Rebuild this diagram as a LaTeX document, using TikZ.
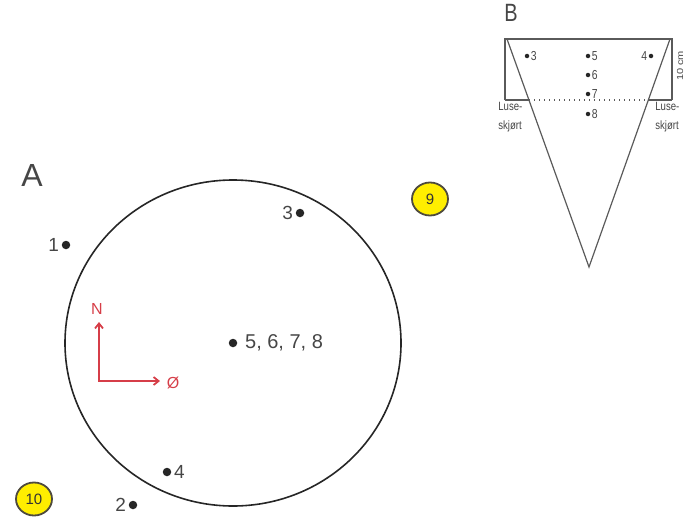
\documentclass[tikz,border=0pt]{standalone}
\usepackage{fontspec}
\setmainfont{Liberation Sans}
\usetikzlibrary{arrows.meta,shapes.geometric}
\definecolor{compred}{RGB}{214,62,72}
\definecolor{badgey}{RGB}{255,238,0}
\definecolor{txtgray}{RGB}{70,70,70}
\definecolor{linegray}{RGB}{90,90,90}
\begin{document}
\begin{tikzpicture}[x=1pt,y=-1pt,
  bigdot/.style={circle,fill=black!85,inner sep=0pt,minimum size=8.5pt},
  smalldot/.style={circle,fill=black!85,inner sep=0pt,minimum size=4.5pt},
  lbl/.style={font=\fontsize{19}{19}\selectfont,text=txtgray,inner sep=2.5pt},
  slbl/.style={font=\fontsize{13}{13}\selectfont,text=txtgray,inner sep=1.5pt,xscale=0.8,transform shape},
  badge/.style={ellipse,draw=black!80!yellow,line width=1.8pt,fill=badgey,minimum width=36pt,minimum height=33pt,inner sep=0pt,font=\fontsize{15}{15}\selectfont,text=black!80},
  compass/.style={draw=compred,line width=1.8pt,-{Straight Barb[length=5pt,width=8pt]}},
  ctext/.style={text=compred,font=\fontsize{16}{16}\selectfont,inner sep=0pt},
  blines/.style={draw=linegray,line width=1.2pt}
]
\useasboundingbox (0,0) rectangle (687,527);

% ---------- A ----------
\node[font=\fontsize{32}{32}\selectfont,text=txtgray] (A) at (32,175) {A};
\draw[line width=1.6pt,black!85] (233,343) ellipse (168 and 163);

\node[bigdot] (p1) at (66,245) {};
\node[lbl,anchor=east] (l1) at (p1.west) {1};
\node[bigdot] (p3) at (300,213) {};
\node[lbl,anchor=east] (l3) at (p3.west) {3};
\node[bigdot] (p5) at (233,343) {};
\node[lbl,anchor=west,font=\fontsize{20}{20}\selectfont] (l5) at ([xshift=5pt]p5.east) {5, 6, 7, 8};
\node[bigdot] (p4) at (167,472) {};
\node[lbl,anchor=west] (l4) at (p4.east) {4};
\node[bigdot] (p2) at (133,505) {};
\node[lbl,anchor=east] (l2) at (p2.west) {2};

\node[badge] (b9) at (430,199) {9};
\node[badge] (b10) at (34,499) {10};

% compass
\coordinate (o) at (99,381);
\coordinate (ntip) at (99,322);
\coordinate (etip) at (160,381);
\node[ctext] (N) at (97,309) {N};
\node[ctext] (E) at (173,383) {Ø};
\draw[compass] ([yshift=-0.9pt]o) -- (ntip);
\draw[compass] ([xshift=-0.9pt]o) -- (etip);

% ---------- B ----------
\node[font=\fontsize{25}{25}\selectfont,text=txtgray,xscale=0.8,transform shape] (B) at (511,13) {B};
\coordinate (rbl) at (505,100);
\coordinate (rtl) at (505,39);
\coordinate (rtr) at (672,39);
\coordinate (rbr) at (672,100);
\coordinate (ttl) at (507,39);
\coordinate (ttr) at (670,39);
\coordinate (apex) at (589,267);
\coordinate (il) at (529,100);
\coordinate (ir) at (648,100);
\draw[blines] (rbl) -- (rtl) -- (rtr) -- (rbr);
\draw[blines] (ttl) -- (apex) -- (ttr);
\draw[blines] (rbl) -- (il);
\draw[blines] (ir) -- (rbr);
\draw[linegray,line width=1.2pt,dash pattern=on 1.4pt off 3.6pt] (il) -- (ir);

\node[smalldot] (s3) at (527,56) {};
\node[slbl,anchor=west] (t3) at (s3.east) {3};
\node[smalldot] (s5) at (588,56) {};
\node[slbl,anchor=west] (t5) at (s5.east) {5};
\node[smalldot] (s6) at (588,75) {};
\node[slbl,anchor=west] (t6) at (s6.east) {6};
\node[smalldot] (s7) at (588,94) {};
\node[slbl,anchor=west] (t7) at (s7.east) {7};
\node[smalldot] (s8) at (588,114) {};
\node[slbl,anchor=west] (t8) at (s8.east) {8};
\node[smalldot] (s4) at (651,56) {};
\node[slbl,anchor=east] (t4) at (s4.west) {4};

\node[slbl,align=left,anchor=north west,font=\fontsize{12}{19}\selectfont] (lsl) at (497,101) {Luse-\\skjørt};
\node[slbl,align=left,anchor=north west,font=\fontsize{12}{19}\selectfont] (lsr) at (654,101) {Luse-\\skjørt};
\node[slbl,rotate=90,font=\fontsize{11}{11}\selectfont] (cm) at (680,66) {10 cm};
\end{tikzpicture}
\end{document}
